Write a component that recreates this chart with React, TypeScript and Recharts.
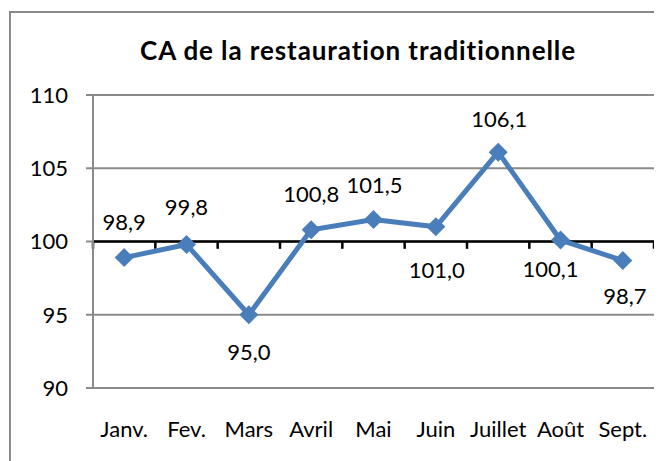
import React from 'react';
import { ComposedChart, Line, XAxis, YAxis, CartesianGrid, ReferenceLine, LabelList } from 'recharts';

const categories = ['Janv.', 'Fev.', 'Mars', 'Avril', 'Mai', 'Juin', 'Juillet', 'Août', 'Sept.'];
const values = [98.9, 99.8, 95.0, 100.8, 101.5, 101.0, 106.1, 100.1, 98.7];
const yTicks = [90, 95, 100, 105, 110];
const crossValue = 100;

const data = categories.map((name, i) => ({ idx: i, name, value: values[i] }));
const boundaries = [...categories.map((_, i) => i - 0.5), categories.length - 0.5];

// label placement (style only)
const labelDx = [0, 0, 0, 0, 1, 1, 1, -10, 2];
const labelDy = [-28, -29, 45, -28, -27, 51, -25, 37, 43];

const FONT = 'Lato, "Open Sans", sans-serif';
const BLUE = '#4A7EBB';
const GRID = '#8a8a8a';

const Diamond = (props: any) => {
  const { cx, cy } = props;
  if (cx == null || cy == null) return null;
  const r = 9.5;
  return <path d={`M${cx},${cy - r} L${cx + r},${cy} L${cx},${cy + r} L${cx - r},${cy} Z`} fill={BLUE} stroke="none" />;
};

const ValueLabel = (props: any) => {
  const { x, y, value, index } = props;
  return (
    <text
      x={x + labelDx[index]}
      y={y + labelDy[index]}
      textAnchor="middle"
      fontFamily={FONT}
      fontSize={22}
      fill="#000"
    >
      {Number(value).toFixed(1).replace('.', ',')}
    </text>
  );
};

export default function App() {
  return (
    <div style={{ position: 'relative', width: 654, height: 453, overflow: 'hidden', background: '#fff' }}>
      <div
        style={{
          position: 'absolute',
          left: 1,
          top: 3,
          width: 760,
          height: 560,
          border: `2px solid ${GRID}`,
          boxSizing: 'border-box',
        }}
      />
      <div
        style={{
          position: 'absolute',
          left: 0,
          width: 700,
          top: 29,
          textAlign: 'center',
          fontFamily: FONT,
          fontWeight: 'bold',
          fontSize: 26,
          letterSpacing: 0.9,
          fontVariantLigatures: 'none',
          lineHeight: 1,
          color: '#000',
          whiteSpace: 'nowrap',
        }}
      >
        CA de la restauration traditionnelle
      </div>
      <div style={{ position: 'absolute', left: 0, top: 0 }}>
        <ComposedChart
          width={654}
          height={453}
          data={data}
          margin={{ top: 87, right: 8, bottom: 0, left: 0 }}
          style={{ fontFamily: FONT }}
        >
          <CartesianGrid horizontal vertical={false} stroke={GRID} strokeWidth={2} />
          <XAxis
            dataKey="idx"
            type="number"
            domain={[-0.5, categories.length - 0.5]}
            ticks={categories.map((_, i) => i)}
            tickFormatter={(v: number) => categories[v]}
            interval={0}
            axisLine={false}
            tickLine={false}
            tickSize={0}
            tickMargin={33}
            height={73}
            tick={{ fontSize: 22, fill: '#000', fontFamily: FONT }}
          />
          <YAxis
            domain={[90, 110]}
            ticks={yTicks}
            width={85}
            tickSize={7}
            tickMargin={18}
            axisLine={{ stroke: GRID, strokeWidth: 2 }}
            tickLine={{ stroke: GRID, strokeWidth: 2 }}
            tick={{ fontSize: 22, fill: '#000', fontFamily: FONT }}
          />
          <ReferenceLine y={crossValue} stroke="#000" strokeWidth={2.5} />
          {boundaries.map((b) => (
            <ReferenceLine
              key={b}
              segment={[
                { x: b, y: crossValue },
                { x: b, y: crossValue - 0.5 },
              ]}
              stroke="#000"
              strokeWidth={2.5}
            />
          ))}
          <Line
            dataKey="value"
            stroke={BLUE}
            strokeWidth={5}
            dot={<Diamond />}
            activeDot={false}
            isAnimationActive={false}
          >
            <LabelList dataKey="value" content={<ValueLabel />} />
          </Line>
        </ComposedChart>
      </div>
    </div>
  );
}
